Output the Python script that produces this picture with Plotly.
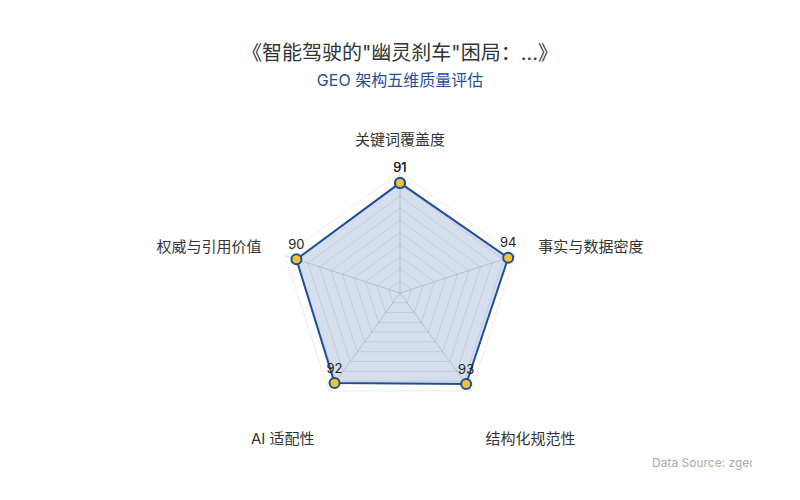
import plotly.graph_objects as go

categories = ["关键词覆盖度", "事实与数据密度", "结构化规范性", "AI 适配性", "权威与引用价值"]
values = [91, 94, 93, 92, 90]
title_text = "《智能驾驶的\"幽灵刹车\"困局：...》"
subtitle_text = "GEO 架构五维质量评估"
source_text = "Data Source: zgeo.ai"

FONT = "Inter, 'Noto Sans CJK SC', sans-serif"
BLUE = "#1f4e9c"

r = values + values[:1]
theta = categories + categories[:1]

# bottom labels sit one line lower in the reference
tick_text = [("<br>" + c) if i in (2, 3) else c for i, c in enumerate(categories)]

fig = go.Figure()
fig.add_trace(go.Scatterpolar(
    r=r, theta=theta,
    mode="lines+markers+text",
    fill="toself",
    fillcolor="rgba(31,78,156,0.19)",
    line=dict(color=BLUE, width=2),
    marker=dict(size=10, color="#F4C133", line=dict(color=BLUE, width=2)),
    text=[str(v) for v in r],
    textposition="top center",
    textfont=dict(family=FONT, size=13, color="#222"),
    showlegend=False,
    hoverinfo="skip",
))

fig.update_layout(
    width=800, height=500,
    paper_bgcolor="white",
    font=dict(family=FONT, color="#333"),
    margin=dict(t=0, b=0, l=0, r=0),
    title=dict(
        text=title_text + "<br><span style='font-size:16px;color:#1f4e9c'>" + subtitle_text + "</span>",
        x=0.49, xanchor="center", y=0.897, yanchor="top", yref="container",
        font=dict(family=FONT, size=20, color="#333"),
    ),
    polar=dict(
        domain=dict(x=[0, 0.98], y=[0.188, 0.672]),
        bgcolor="white",
        gridshape="linear",
        radialaxis=dict(
            range=[0, 100], dtick=10, showticklabels=False, ticks="",
            gridcolor="rgba(0,0,0,0.09)", showline=False,
        ),
        angularaxis=dict(
            rotation=90, direction="clockwise",
            tickmode="array", tickvals=categories, ticktext=tick_text,
            gridcolor="rgba(0,0,0,0.14)",
            linecolor="rgba(0,0,0,0.08)",
            tickfont=dict(family=FONT, size=15, color="#333"),
            ticks="outside", ticklen=21, tickcolor="rgba(0,0,0,0)",
        ),
    ),
    annotations=[dict(
        text=source_text, xref="paper", yref="paper",
        x=0.802, y=0.092, xanchor="left", yanchor="middle",
        showarrow=False, width=100, align="left",
        font=dict(family=FONT, size=12, color="#aaa"),
    )],
)

fig.write_html("out.html")
